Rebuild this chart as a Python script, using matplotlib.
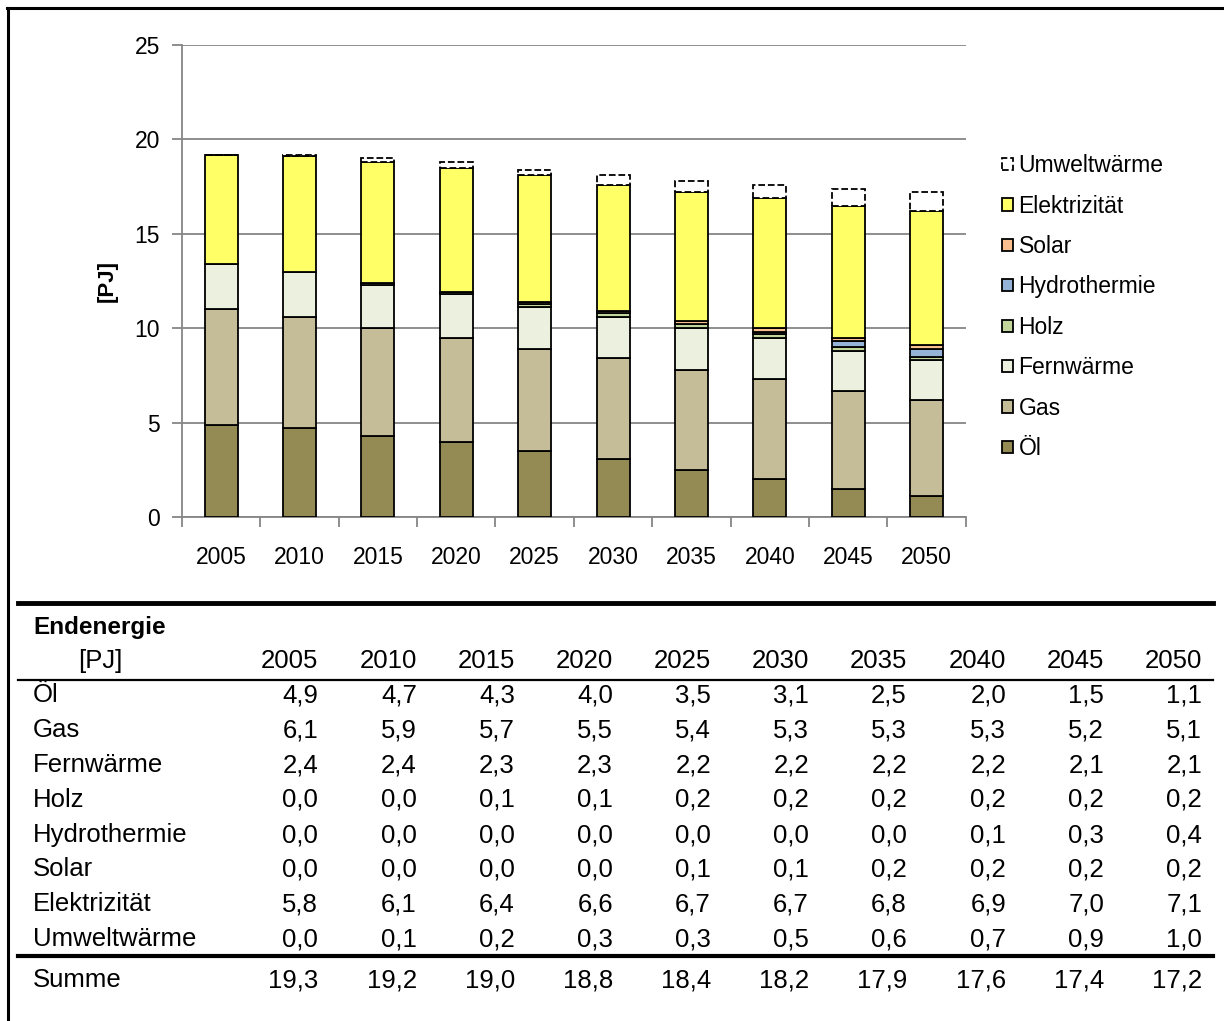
import matplotlib.pyplot as plt
from matplotlib.patches import Patch
from matplotlib.lines import Line2D
import numpy as np

plt.rcParams['font.family'] = ['Liberation Sans', 'DejaVu Sans']

years = ['2005', '2010', '2015', '2020', '2025', '2030', '2035', '2040', '2045', '2050']
carriers = ['Öl', 'Gas', 'Fernwärme', 'Holz', 'Hydrothermie', 'Solar', 'Elektrizität', 'Umweltwärme']

oel = [4.9, 4.7, 4.3, 4.0, 3.5, 3.1, 2.5, 2.0, 1.5, 1.1]
gas = [6.1, 5.9, 5.7, 5.5, 5.4, 5.3, 5.3, 5.3, 5.2, 5.1]
fernwaerme = [2.4, 2.4, 2.3, 2.3, 2.2, 2.2, 2.2, 2.2, 2.1, 2.1]
holz = [0.0, 0.0, 0.1, 0.1, 0.2, 0.2, 0.2, 0.2, 0.2, 0.2]
hydrothermie = [0.0, 0.0, 0.0, 0.0, 0.0, 0.0, 0.0, 0.1, 0.3, 0.4]
solar = [0.0, 0.0, 0.0, 0.0, 0.1, 0.1, 0.2, 0.2, 0.2, 0.2]
elektrizitaet = [5.8, 6.1, 6.4, 6.6, 6.7, 6.7, 6.8, 6.9, 7.0, 7.1]
umweltwaerme = [0.0, 0.1, 0.2, 0.3, 0.3, 0.5, 0.6, 0.7, 0.9, 1.0]
summe = ['19,3', '19,2', '19,0', '18,8', '18,4', '18,2', '17,9', '17,6', '17,4', '17,2']

series = [oel, gas, fernwaerme, holz, hydrothermie, solar, elektrizitaet, umweltwaerme]
colors = ['#948A54', '#C4BD97', '#EBF1DE', '#C3D69B', '#95B3D7', '#FABF8F', '#FFFF66', 'white']

fig = plt.figure(figsize=(12.24, 10.21), dpi=100)
ax = fig.add_axes([0.1487, 0.4936, 0.6403, 0.4623])

x = np.arange(len(years))
bottom = np.zeros(len(years))
for name, vals, col in zip(carriers, series, colors):
    vals = np.array(vals)
    if name == 'Umweltwärme':
        ax.bar(x, vals, 0.42, bottom=bottom, color=col, edgecolor='black',
               linewidth=1.3, linestyle='--', zorder=3)
    else:
        ax.bar(x, vals, 0.42, bottom=bottom, color=col, edgecolor='black',
               linewidth=1.3, zorder=3)
    bottom += vals

ax.set_xlim(-0.5, len(years) - 0.5)
ax.set_ylim(0, 25)
ax.set_yticks([0, 5, 10, 15, 20, 25])
ax.yaxis.grid(True, color='#868686', linewidth=1.3)
ax.set_axisbelow(True)
ax.set_xticks(x)
ax.set_xticklabels(years)
ax.set_xticks(np.arange(-0.5, len(years)), minor=True)
ax.tick_params(axis='x', which='major', length=0, pad=21, labelsize=16.5)
ax.tick_params(axis='x', which='minor', length=7, direction='out', color='#868686', width=1.3)
ax.tick_params(axis='y', length=7, direction='out', color='#868686', width=1.3, pad=9, labelsize=16.5)
for s in ['top', 'right']:
    ax.spines[s].set_visible(False)
for s in ['left', 'bottom']:
    ax.spines[s].set_color('#868686')
    ax.spines[s].set_linewidth(1.3)
ax.set_ylabel('[PJ]', fontsize=16, fontweight='bold', labelpad=12)

handles = []
for name, col in zip(carriers[::-1], colors[::-1]):
    ls = '--' if name == 'Umweltwärme' else '-'
    handles.append(Patch(facecolor=col, edgecolor='black', linewidth=1.3, linestyle=ls, label=name))
ax.legend(handles=handles, loc='upper left', bbox_to_anchor=(0.819, 0.849),
          bbox_transform=fig.transFigure, frameon=False, fontsize=16.5,
          handlelength=0.45, handleheight=0.45, handletextpad=0.25,
          labelspacing=0.76, borderpad=0, borderaxespad=0)

# frame lines
fig.add_artist(Line2D([0.0065, 0.0065], [0.0, 0.992], color='black', linewidth=2.2))
fig.add_artist(Line2D([0.0057, 1.0], [0.992, 0.992], color='black', linewidth=2.2))

# table
def fy(py):
    return 1 - py / 1021

col_right = [318, 417, 515, 613, 711, 809, 907, 1006, 1104, 1202]
fs = 18.5
fig.add_artist(Line2D([18 / 1224, 1213 / 1224], [fy(603), fy(603)], color='black', linewidth=3.5))
fig.text(33 / 1224, fy(627), 'Endenergie', fontsize=17.5, fontweight='bold', va='center')
fig.text(100 / 1224, fy(661), '[PJ]', fontsize=fs, ha='center', va='center')
for cx, yr in zip(col_right, years):
    fig.text(cx / 1224, fy(661), yr, fontsize=fs, ha='right', va='center')
fig.add_artist(Line2D([18 / 1224, 1213 / 1224], [fy(680), fy(680)], color='black', linewidth=1.6))

row_y = [695, 730, 765, 800, 835, 869, 904, 939]
for ry, name, vals in zip(row_y, carriers, series):
    fig.text(33 / 1224, fy(ry), name, fontsize=fs, va='center')
    for cx, v in zip(col_right, vals):
        fig.text(cx / 1224, fy(ry), f'{v:.1f}'.replace('.', ','), fontsize=fs, ha='right', va='center')

fig.add_artist(Line2D([18 / 1224, 1213 / 1224], [fy(956), fy(956)], color='black', linewidth=3.0))
fig.text(33 / 1224, fy(980), 'Summe', fontsize=fs, va='center')
for cx, v in zip(col_right, summe):
    fig.text(cx / 1224, fy(980), v, fontsize=fs, ha='right', va='center')

fig.savefig('out.png', dpi=100)
